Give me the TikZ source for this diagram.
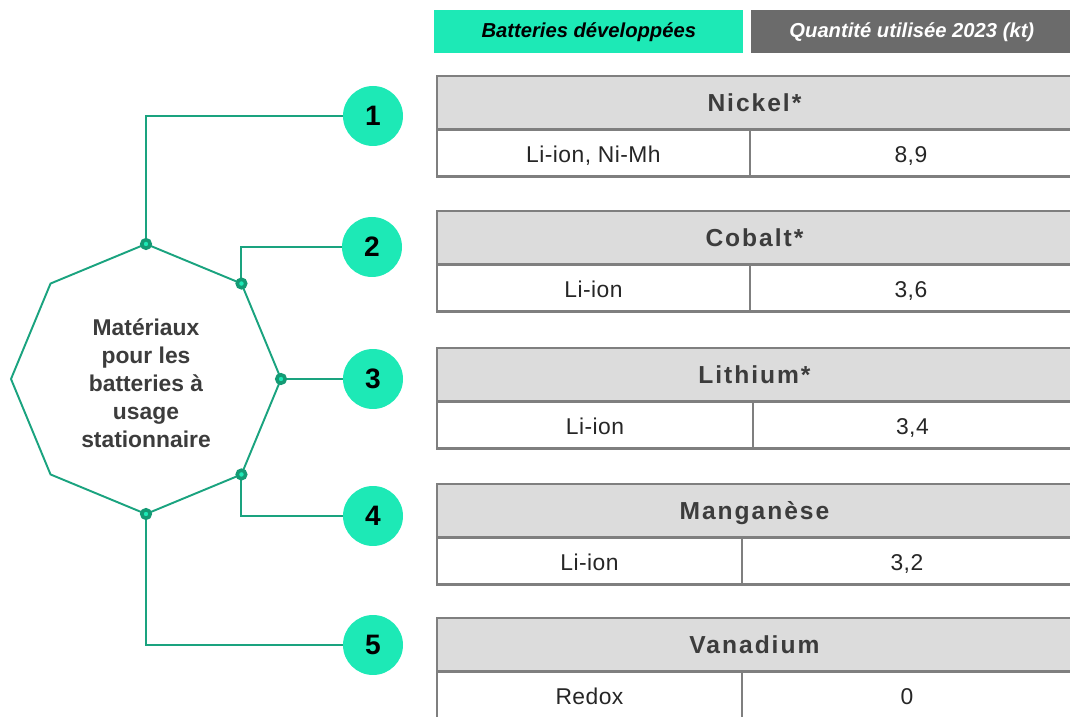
\documentclass[tikz,border=0pt]{standalone}
\usepackage{fontspec}
\setmainfont{Liberation Sans}
\usepackage{xcolor}
\usepackage{tikz}
\usetikzlibrary{calc, positioning, backgrounds}

\definecolor{linkgreen}{HTML}{1AA37F}
\definecolor{mint}{HTML}{1DE9B6}
\definecolor{dotgreen}{HTML}{149A74}
\definecolor{leggray}{HTML}{6B6B6B}
\definecolor{tblgray}{HTML}{7F7F7F}
\definecolor{hdrgray}{HTML}{DCDCDC}
\definecolor{darktext}{HTML}{3C3C3C}

\begin{document}
\begin{tikzpicture}[
        x=0.02cm, y=0.02cm,
        link/.style={draw=linkgreen, line width=1.1pt},
        joint/.style={
            circle,
            draw=dotgreen,
            fill=mint,
            line width=2pt,
            minimum size=0.17cm,
            inner sep=0pt
        },
        badge/.style={
            circle,
            fill=mint,
            minimum size=1.2cm,
            inner sep=0pt,
            font=\fontsize{16}{18}\selectfont\bfseries
        },
        hubtext/.style={
            align=center,
            text=darktext,
            font=\fontsize{13}{15.9}\selectfont\bfseries
        },
        legend/.style={
            rectangle,
            anchor=north west,
            minimum height=0.86cm,
            inner sep=0pt,
            font=\fontsize{11.5}{13}\selectfont\bfseries\itshape
        },
        hdr/.style={
            rectangle,
            anchor=north west,
            draw=tblgray,
            fill=hdrgray,
            line width=1.4pt,
            minimum width=12.7cm,
            minimum height=1.07cm,
            inner sep=0pt,
            outer sep=0pt,
            text height=2.0ex,
            text depth=0.2ex,
            text=darktext,
            font=\fontsize{14}{16}\selectfont\bfseries\addfontfeatures{LetterSpace=8}
        },
        cell/.style={
            rectangle,
            anchor=north west,
            draw=tblgray,
            fill=white,
            line width=1.4pt,
            minimum height=0.94cm,
            inner sep=0pt,
            outer sep=0pt,
            text height=2.2ex,
            text depth=0.2ex,
            text=black!85,
            font=\fontsize{13}{15}\selectfont\addfontfeatures{LetterSpace=2}
        }
    ]

    \useasboundingbox (0,0) rectangle (1070,716);

    % octagon
    \coordinate (hub) at (146,337);
    \foreach \a in {0,45,...,315}
        \coordinate (v\a) at ($(hub)+(\a:135)$);
    \draw [link] (v0) -- (v45) -- (v90) -- (v135) -- (v180) -- (v225) -- (v270) -- (v315) -- cycle;
    \node (hublabel) [hubtext] at (146,333) {Matériaux\\pour les\\batteries à\\usage\\stationnaire};

    % numbered badges
    \node (one) [badge] at (373,600) {1};
    \node (two) [badge] at (372,469) {2};
    \node (three) [badge] at (373,337) {3};
    \node (four) [badge] at (373,200) {4};
    \node (five) [badge] at (373,71) {5};

    \begin{scope}[on background layer]
    \draw [link] (v90) |- (one);
    \draw [link] (v45) |- (two);
    \draw [link] (v0) -- (three);
    \draw [link] (v315) |- (four);
    \draw [link] (v270) |- (five);
    \end{scope}

    \node (j1) [joint] at (v90) {};
    \node (j2) [joint] at (v45) {};
    \node (j3) [joint] at (v0) {};
    \node (j4) [joint] at (v315) {};
    \node (j5) [joint] at (v270) {};

    % legend
    \node (legbat) [legend, fill=mint, minimum width=6.18cm] at (434,706) {Batteries développées};
    \node (legqty) [legend, fill=leggray, text=white, minimum width=6.42cm] at (751,706) {Quantité utilisée 2023 (kt)};

    % tables
    \node (nickel) [hdr] at (437,640) {Nickel*};
    \node (nickeluse) [cell, minimum width=6.26cm] at (nickel.south west) {Li-ion, Ni-Mh};
    \node (nickelqty) [cell, minimum width=6.44cm] at (nickeluse.north east) {8,9};

    \node (cobalt) [hdr] at (437,505) {Cobalt*};
    \node (cobaltuse) [cell, minimum width=6.26cm] at (cobalt.south west) {Li-ion};
    \node (cobaltqty) [cell, minimum width=6.44cm] at (cobaltuse.north east) {3,6};

    \node (lithium) [hdr] at (437,368) {Lithium*};
    \node (lithiumuse) [cell, minimum width=6.32cm] at (lithium.south west) {Li-ion};
    \node (lithiumqty) [cell, minimum width=6.38cm] at (lithiumuse.north east) {3,4};

    \node (mangan) [hdr] at (437,232) {Manganèse};
    \node (manganuse) [cell, minimum width=6.1cm] at (mangan.south west) {Li-ion};
    \node (manganqty) [cell, minimum width=6.6cm] at (manganuse.north east) {3,2};

    \node (vanad) [hdr] at (437,98) {Vanadium};
    \node (vanaduse) [cell, minimum width=6.1cm] at (vanad.south west) {Redox};
    \node (vanadqty) [cell, minimum width=6.6cm] at (vanaduse.north east) {0};

\end{tikzpicture}
\end{document}
